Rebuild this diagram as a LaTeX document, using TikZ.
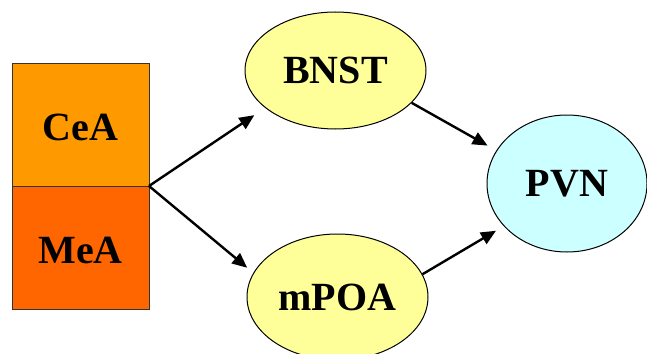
\documentclass[tikz,border=0pt]{standalone}
\usepackage{fontspec}
\setmainfont{Liberation Serif}
\usetikzlibrary{arrows.meta,shapes.geometric}
\definecolor{ceaorange}{HTML}{FF9900}
\definecolor{meaorange}{HTML}{FF6600}
\definecolor{paleyellow}{HTML}{FFFF99}
\definecolor{palecyan}{HTML}{CCFFFF}
\tikzset{
  region/.style={draw=black!80, line width=0.8pt, minimum width=137pt, minimum height=123pt,
                 inner sep=0pt, text height=32pt, text depth=0pt,
                 font=\fontsize{40}{44}\selectfont\bfseries},
  nucleus/.style={ellipse, draw=black, line width=1pt, inner sep=0pt,
                  font=\fontsize{40}{44}\selectfont\bfseries},
  link/.style={line width=2.4pt, -{Triangle[length=15pt,width=13pt]}}
}
\begin{document}
\begin{tikzpicture}[x=1pt,y=-1pt]
  \useasboundingbox (0,0) rectangle (647,353);
  \clip (0,0) rectangle (647,353);
  % amygdala nuclei
  \node[region, fill=ceaorange] (CeA) at (80.5,124.5) {CeA};
  \node[region, fill=meaorange] (MeA) at (80.5,247.5) {MeA};
  \coordinate (split) at (149,186);
  % relay nuclei and target
  \node[nucleus, fill=paleyellow, minimum width=181pt, minimum height=117pt] (BNST) at (335.5,70.5) {BNST};
  \node[nucleus, fill=paleyellow, minimum width=181pt, minimum height=126pt] (mPOA) at (337.5,297) {mPOA};
  \node[nucleus, fill=palecyan, minimum width=160pt, minimum height=137pt] (PVN) at (567,183.5) {PVN};
  % projections
  \draw[link, shorten >=13pt] (split) -- (BNST.208.9);
  \draw[link, shorten >=8pt] (split) -- (mPOA.164.9);
  \draw[link, shorten >=10pt] (BNST.-23.4) -- (PVN.155.5);
  \draw[link, shorten >=9pt] (mPOA.15.5) -- (PVN.214.2);
\end{tikzpicture}
\end{document}
